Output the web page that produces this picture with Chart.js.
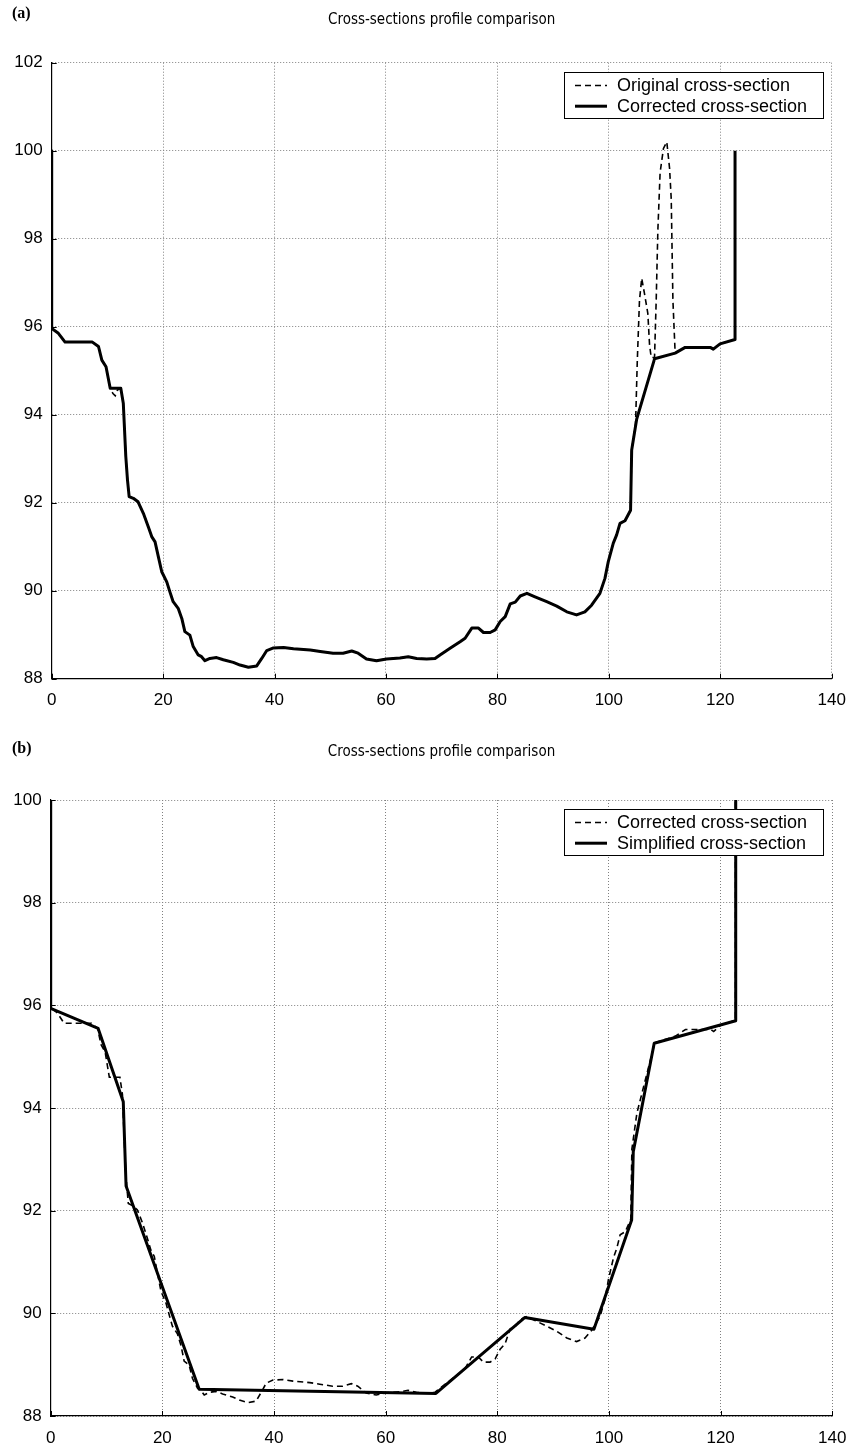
<!DOCTYPE html>
<html>
<head>
<meta charset="utf-8">
<script src="https://cdn.jsdelivr.net/npm/chart.js@4.4.1/dist/chart.umd.min.js"></script>
<style>
html,body{margin:0;padding:0;background:#fff;}
body{width:853px;height:1448px;position:relative;overflow:hidden;}
.wrap{position:absolute;left:0;width:853px;}
#wa{top:0;height:720px;}
#wb{top:720px;height:728px;}
.lab{position:absolute;font:bold 16px/16px "Liberation Serif","Times New Roman",serif;color:#000;}
</style>
</head>
<body>
<div class="wrap" id="wa"><canvas id="ca"></canvas></div>
<div class="wrap" id="wb"><canvas id="cb"></canvas></div>
<div class="lab" style="left:12px;top:5px">(a)</div>
<div class="lab" style="left:12px;top:740px">(b)</div>
<script>
// ---------------- DATA ----------------
const chartTitle = 'Cross-sections profile comparison';
const xTicks = [0, 20, 40, 60, 80, 100, 120, 140];
const yTicksA = [88, 90, 92, 94, 96, 98, 100, 102];
const yTicksB = [88, 90, 92, 94, 96, 98, 100];

// corrected cross-section [distance, elevation]
const corrected = [
  [0,100],[0,95.96],[1.2,95.85],[2.4,95.65],[7.3,95.65],[8.4,95.55],[9.0,95.24],[9.75,95.09],
  [10.5,94.6],[12.4,94.6],[12.85,94.26],[13.3,93.05],[13.6,92.52],[13.9,92.14],[14.65,92.1],
  [15.5,92.02],[16.45,91.76],[17.35,91.45],[17.95,91.23],[18.55,91.11],[19.15,90.77],[19.75,90.43],
  [20.65,90.2],[21.2,89.98],[21.8,89.75],[22.7,89.6],[23.35,89.37],[23.9,89.07],[24.8,88.99],
  [25.4,88.73],[26.3,88.54],[26.9,88.5],[27.5,88.41],[28.4,88.46],[29.6,88.48],[30.8,88.43],
  [32.6,88.37],[33.8,88.31],[35.3,88.26],[36.8,88.29],[37.7,88.46],[38.6,88.64],[39.8,88.7],
  [41.6,88.71],[43.4,88.68],[46.4,88.65],[48.2,88.62],[50.5,88.58],[52.3,88.58],[53.85,88.63],
  [55.0,88.58],[56.5,88.45],[58.3,88.41],[60.1,88.45],[62.5,88.47],[64.0,88.5],[65.5,88.46],
  [67.3,88.45],[68.8,88.46],[69.7,88.54],[71.5,88.69],[73.3,88.84],[74.2,88.92],[75.4,89.15],
  [76.6,89.15],[77.5,89.05],[78.7,89.05],[79.6,89.11],[80.5,89.3],[81.4,89.41],[82.3,89.7],
  [83.2,89.74],[84.1,89.88],[85.3,89.94],[86.75,89.86],[88.85,89.75],[90.65,89.65],[92.45,89.52],
  [94.2,89.45],[95.7,89.52],[96.9,89.67],[98.4,89.94],[99.3,90.28],[99.9,90.66],[100.8,91.08],
  [101.4,91.27],[102.0,91.53],[102.9,91.59],[103.9,91.83],[104.1,93.2],[105.0,93.9],[108.2,95.27],
  [111.9,95.4],[113.7,95.53],[118.2,95.53],[118.75,95.49],[119.96,95.61],[122.65,95.71],[122.65,100]
];

// original cross-section [distance, elevation]
const original = [
  [0,100],[0,95.96],[1.2,95.85],[2.4,95.65],[7.3,95.65],[8.4,95.55],[9.0,95.24],[9.75,95.09],
  [10.5,94.6],[11.0,94.48],[11.4,94.43],[11.8,94.56],[12.4,94.6],[12.85,94.26],[13.3,93.05],
  [13.6,92.52],[13.9,92.14],[14.65,92.1],[15.5,92.02],[16.45,91.76],[17.35,91.45],[17.95,91.23],
  [18.55,91.11],[19.15,90.77],[19.75,90.43],[20.65,90.2],[21.2,89.98],[21.8,89.75],[22.7,89.6],
  [23.35,89.37],[23.9,89.07],[24.8,88.99],[25.4,88.73],[26.3,88.54],[26.9,88.5],[27.5,88.41],
  [28.4,88.46],[29.6,88.48],[30.8,88.43],[32.6,88.37],[33.8,88.31],[35.3,88.26],[36.8,88.29],
  [37.7,88.46],[38.6,88.64],[39.8,88.7],[41.6,88.71],[43.4,88.68],[46.4,88.65],[48.2,88.62],
  [50.5,88.58],[52.3,88.58],[53.85,88.63],[55.0,88.58],[56.5,88.45],[58.3,88.41],[60.1,88.45],
  [62.5,88.47],[64.0,88.5],[65.5,88.46],[67.3,88.45],[68.8,88.46],[69.7,88.54],[71.5,88.69],
  [73.3,88.84],[74.2,88.92],[75.4,89.15],[76.6,89.15],[77.5,89.05],[78.7,89.05],[79.6,89.11],
  [80.5,89.3],[81.4,89.41],[82.3,89.7],[83.2,89.74],[84.1,89.88],[85.3,89.94],[86.75,89.86],
  [88.85,89.75],[90.65,89.65],[92.45,89.52],[94.2,89.45],[95.7,89.52],[96.9,89.67],[98.4,89.94],
  [99.3,90.28],[99.9,90.66],[100.8,91.08],[101.4,91.27],[102.0,91.53],[102.9,91.59],[103.9,91.83],
  [104.1,93.2],[104.8,93.8],[105.1,95.2],[105.5,96.6],[105.9,97.1],[106.4,96.75],[107.0,96.3],
  [107.3,95.6],[107.6,95.3],[108.2,95.3],[108.5,96.6],[108.8,98.2],[109.2,99.5],[109.8,100.05],
  [110.4,100.2],[110.9,99.6],[111.2,98.9],[111.5,96.6],[111.9,95.4],[113.7,95.53],[118.2,95.53],
  [118.75,95.49],[119.96,95.61],[122.65,95.71]
];

// simplified cross-section [distance, elevation]
const simplified = [
  [0,100],[0,95.94],[8.5,95.55],[13.0,94.12],[13.5,92.48],[26.6,88.52],[69.0,88.44],
  [84.95,89.92],[97.3,89.69],[104.06,91.82],[104.35,93.15],[108.1,95.26],[122.7,95.7],[122.7,100]
];

// ---------------- HELPERS ----------------
const toXY = arr => arr.map(p => ({x: p[0], y: p[1]}));
const TICK_FONT = {family: '"Liberation Sans", Arial, Helvetica, sans-serif', size: 17};
const TITLE_FONT = {family: '"Liberation Sans Narrow", "Arial Narrow", "DejaVu Sans Condensed", sans-serif', size: 15, weight: 'normal', lineHeight: 1.2};

const decor = {
  id: 'decor',
  afterDraw(chart) {
    const ctx = chart.ctx, ca = chart.chartArea;
    const xs = chart.scales.x, ys = chart.scales.y;
    ctx.save();
    // inward tick marks (MATLAB style)
    ctx.strokeStyle = '#000';
    ctx.lineWidth = 1;
    ctx.setLineDash([]);
    xs.ticks.forEach(t => {
      const px = Math.round(xs.getPixelForValue(t.value)) + 0.5;
      ctx.beginPath(); ctx.moveTo(px, ca.bottom); ctx.lineTo(px, ca.bottom - 5); ctx.stroke();
    });
    ys.ticks.forEach(t => {
      const py = Math.round(ys.getPixelForValue(t.value)) + 0.5;
      ctx.beginPath(); ctx.moveTo(ca.left, py); ctx.lineTo(ca.left + 5, py); ctx.stroke();
    });
    // legend box in upper right
    const bw = 259, bh = 46;
    const bx = Math.round(ca.right - 9 - bw), by = Math.round(ca.top + 9);
    ctx.fillStyle = '#fff';
    ctx.fillRect(bx, by, bw, bh);
    ctx.strokeStyle = '#000';
    ctx.lineWidth = 1;
    ctx.strokeRect(bx + 0.5, by + 0.5, bw, bh);
    chart.data.datasets.forEach((ds, i) => {
      const cy = by + 13.5 + i * 20.7;
      ctx.beginPath();
      ctx.setLineDash(ds.borderDash || []);
      ctx.lineWidth = ds.borderWidth;
      ctx.strokeStyle = ds.borderColor;
      ctx.moveTo(bx + 11, cy); ctx.lineTo(bx + 43, cy);
      ctx.stroke();
      ctx.setLineDash([]);
      ctx.fillStyle = '#000';
      ctx.font = '18px "Liberation Sans", Arial, Helvetica, sans-serif';
      ctx.textBaseline = 'middle';
      ctx.textAlign = 'left';
      ctx.fillText(ds.label, bx + 53, cy + 1);
    });
    ctx.restore();
  }
};

function makeChart(id, cfg) {
  return new Chart(document.getElementById(id), {
    type: 'scatter',
    data: {
      datasets: [
        {label: cfg.dashLabel, data: toXY(cfg.dashData), showLine: true, borderColor: '#000',
         borderWidth: 1.6, borderDash: [6, 4], pointRadius: 0, tension: 0, order: 2, fill: false},
        {label: cfg.solidLabel, data: toXY(cfg.solidData), showLine: true, borderColor: '#000',
         borderWidth: 3, pointRadius: 0, tension: 0, order: 1, fill: false,
         borderJoinStyle: 'round', borderCapStyle: 'butt'}
      ]
    },
    options: {
      responsive: true,
      maintainAspectRatio: false,
      animation: false,
      devicePixelRatio: 1,
      layout: {padding: {top: 0, left: 0, right: cfg.padRight, bottom: 0}},
      plugins: {
        legend: {display: false},
        tooltip: {enabled: false},
        title: {display: true, text: chartTitle, fullSize: false, color: '#000', font: TITLE_FONT,
                padding: {top: cfg.titleTop, bottom: cfg.titleBottom}}
      },
      scales: {
        x: {
          type: 'linear', min: 0, max: 140,
          afterBuildTicks: s => { s.ticks = xTicks.map(v => ({value: v})); },
          afterFit: s => { s.height = cfg.xAxisH; s.paddingLeft = 0; s.paddingRight = 0; },
          ticks: {color: '#000', font: TICK_FONT, padding: cfg.xPad, maxRotation: 0},
          grid: {color: '#808080', lineWidth: 1, drawTicks: false},
          border: {display: true, color: '#000', width: 1.2, dash: [1, 2]}
        },
        y: {
          type: 'linear', min: 88, max: cfg.yMax,
          afterBuildTicks: s => { s.ticks = cfg.yTicks.map(v => ({value: v})); },
          afterFit: s => { s.width = cfg.yAxisW; s.paddingTop = 0; s.paddingBottom = 0; },
          ticks: {color: '#000', font: TICK_FONT, padding: 9},
          grid: {color: '#808080', lineWidth: 1, drawTicks: false},
          border: {display: true, color: '#000', width: 1.2, dash: [1, 2]}
        }
      }
    },
    plugins: [decor]
  });
}

makeChart('ca', {
  dashLabel: 'Original cross-section', dashData: original,
  solidLabel: 'Corrected cross-section', solidData: corrected,
  yMax: 102, yTicks: yTicksA, padRight: 21.3, yAxisW: 51.7, xAxisH: 41.3, xPad: 11,
  titleTop: 11, titleBottom: 33.7
});
makeChart('cb', {
  dashLabel: 'Corrected cross-section', dashData: corrected,
  solidLabel: 'Simplified cross-section', solidData: simplified,
  yMax: 100, yTicks: yTicksB, padRight: 20.7, yAxisW: 50.7, xAxisH: 32, xPad: 12,
  titleTop: 23, titleBottom: 39
});
</script>
</body>
</html>
